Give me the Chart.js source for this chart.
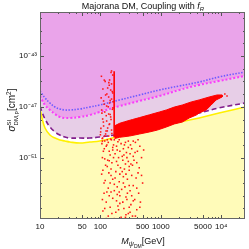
<!DOCTYPE html>
<html>
<head>
<meta charset="utf-8">
<title>Majorana DM</title>
<script src="https://cdn.jsdelivr.net/npm/chart.js"></script>
<style>
  html, body { margin: 0; padding: 0; background: #fff; }
</style>
</head>
<body>
<canvas id="grafico" width="249" height="249"></canvas>
<script>
// masses (GeV) where the limit curves were read
const massGrid = [10, 10.8, 12.1, 14.6, 17.7, 21.3, 25.8, 31.2, 45.6, 66.6, 97.3, 208, 444, 948, 2024, 4323, 9230, 24800];
// log10 of sigma (cm^2)
const blueExp    = [-45.76, -45.99, -46.31, -46.70, -47.02, -47.17, -47.25, -47.25, -47.17, -47.02, -46.86, -46.46, -46.07, -45.68, -45.36, -45.05, -44.65, -44.26];
const magentaExp = [-46.15, -46.46, -46.86, -47.25, -47.57, -47.80, -47.88, -47.88, -47.80, -47.65, -47.41, -46.94, -46.54, -46.15, -45.68, -45.28, -44.97, -44.57];
const purpleExp  = [-46.94, -47.41, -47.96, -48.59, -48.98, -49.22, -49.38, -49.46, -49.46, -49.46, -49.38, -49.14, -48.75, -48.28, -47.88, -47.49, -47.09, -46.70];
const yellowExp  = [-47.02, -47.88, -48.67, -49.22, -49.46, -49.61, -49.69, -49.77, -49.85, -49.77, -49.69, -49.30, -48.91, -48.51, -48.20, -47.88, -47.49, -47.02];

// dense band of model points (outline: upper edge then lower edge back)
const bandMass = [172, 208, 251, 340, 444, 649, 948, 1236, 1675, 2270, 3190, 4323, 6320, 8560, 10350,
                  10350, 8250, 6820, 5640, 4323, 3860, 2960, 2270, 1675, 1236, 879, 649, 444, 304, 208, 172];
const bandExp  = [-48.50, -48.30, -48.18, -48.00, -47.85, -47.63, -47.41, -47.25, -47.02, -46.86, -46.62, -46.46, -46.23, -46.07, -46.07,
                  -46.23, -46.46, -46.86, -47.25, -47.49, -47.65, -47.88, -48.20, -48.35, -48.59, -48.83, -48.98, -49.14, -49.30, -49.40, -49.50];

// vertical spike near the resonance
const spikeMass = [169, 169];
const spikeExp  = [-44.2, -49.4];

// scattered model points, around the spike
const upperDotMass = [153, 160, 142, 153, 132, 148, 160, 122, 137, 153, 113, 142, 127, 160, 105, 118, 137, 148, 109, 127, 142, 113, 132, 153, 101, 122, 137, 109, 148, 118,
                      104, 150, 120, 140, 110, 157, 128, 103, 145, 115, 135, 158, 106, 125, 150, 112, 140, 102, 130, 155, 118, 107, 138, 116, 162, 124, 100, 145, 11500, 12500];
const upperDotExp  = [-44.18, -44.50, -44.89, -45.20, -45.52, -45.68, -45.91, -46.07, -46.23, -46.39, -46.54, -46.70, -46.94, -47.09, -47.25, -47.41, -47.57, -47.80, -47.96, -48.12, -48.35, -48.51, -48.67, -48.83, -48.98, -49.14, -49.30, -49.46, -49.54, -49.69,
                      -44.6, -44.3, -45.0, -45.3, -45.6, -45.8, -46.0, -46.3, -46.5, -46.8, -47.0, -47.2, -47.5, -47.7, -48.0, -48.2, -48.4, -48.7, -48.9, -49.1, -49.3, -49.5, -45.1, -44.9, -46.6, -48.9, -49.2, -47.6, -46.0, -46.15];

// scattered model points below the limit curves
const lowerDotMass = [108, 135, 170, 220, 290, 380, 125, 160, 250, 330, 450, 112, 190, 270, 410, 145, 230, 310, 118, 200,
                      360, 480, 155, 260, 130, 215, 340, 110, 180, 300, 420, 150, 240, 390, 120, 205, 280, 170, 350, 500,
                      135, 225, 310, 115, 190, 430, 160, 265, 370, 125, 210, 320, 145, 245, 400, 110, 180, 290, 135, 220,
                      340, 165, 195, 240, 140, 290, 175, 255, 150, 330, 195, 265, 480, 460,
                      106, 128, 152, 185, 205, 260, 315, 350, 420, 116, 140, 175, 210, 245, 290, 375, 520, 108, 132, 165,
                      185, 235, 275, 320, 400, 122, 150, 195, 250, 300, 440, 105, 138, 160, 210, 265, 330, 115, 145, 190,
                      240, 300, 400, 128, 170, 210, 280, 350, 108, 140, 185, 235, 300, 450, 118, 155, 200, 260, 380, 125,
                      170, 310, 230, 275, 160, 350, 205, 130];
const lowerDotExp  = [-49.7, -49.8, -49.6, -49.9, -49.7, -49.8, -50.1, -50.2, -50.0, -50.3, -50.1, -50.5, -50.4, -50.6, -50.5, -50.8, -50.9, -50.7, -51.1, -51.0,
                      -51.2, -51.0, -51.4, -51.5, -51.7, -51.8, -51.6, -52.0, -52.1, -52.0, -52.2, -52.4, -52.5, -52.6, -52.8, -52.9, -52.7, -53.1, -53.2, -53.0,
                      -53.4, -53.5, -53.6, -53.8, -53.9, -53.8, -54.2, -54.1, -54.3, -54.5, -54.6, -54.7, -54.9, -55.0, -55.1, -55.2, -55.3, -55.4, -55.6, -55.7,
                      -55.6, -50.0, -49.75, -50.3, -51.25, -51.3, -52.6, -53.3, -53.7, -54.0, -54.8, -55.5, -52.4, -54.5,
                      -49.9, -50.0, -49.6, -50.1, -49.6, -49.8, -50.0, -49.7, -49.6, -50.3, -50.5, -50.7, -50.5, -50.8, -50.2, -50.6, -50.4, -51.0, -51.2, -51.0,
                      -51.3, -51.2, -51.0, -51.5, -51.4, -51.6, -51.9, -51.6, -51.9, -51.7, -51.8, -52.3, -52.2, -52.7, -52.3, -52.3, -52.4, -53.0, -53.0, -53.3,
                      -53.0, -53.2, -53.4, -53.7, -53.6, -54.0, -53.8, -54.4, -54.3, -54.0, -54.4, -54.5, -54.9, -54.9, -55.0, -55.4, -55.1, -55.7, -55.6, -55.8,
                      -55.8, -55.3, -52.1, -54.3, -50.4, -50.9, -53.7, -49.6];

const xTickVals   = [10, 50, 100, 500, 1000, 5000, 10000];
const xTickLabels = ['10', '50', '100', '500', '1000', '5000', '10\u2074'];
const yTickVals   = [1e-43, 1e-47, 1e-51];
const yTickLabels = ['10\u207b\u2074\u00b3', '10\u207b\u2074\u2077', '10\u207b\u2075\u00b9'];
const xMinor = [20, 30, 40, 60, 70, 80, 90, 200, 300, 400, 600, 700, 800, 900, 2000, 3000, 4000, 6000, 7000, 8000, 9000, 20000];
const yMinor = [1e-40, 1e-41, 1e-42, 1e-44, 1e-45, 1e-46, 1e-48, 1e-49, 1e-50, 1e-52, 1e-53, 1e-54, 1e-55];

const toPts = (xs, es) => xs.map((x, i) => ({ x: x, y: Math.pow(10, es[i]) }));

const FONT = '"Liberation Sans", Arial, sans-serif';

function drawRich(ctx, parts, x, y) {
  // measure then draw centred on x, baseline y
  let total = 0;
  const widths = parts.map(p => {
    let w = 0;
    [p.t, p.sup, p.sub].forEach((txt, k) => {
      if (!txt) return;
      const size = k === 0 ? p.s : (p.ss || 5.5);
      ctx.font = (p.i ? 'italic ' : '') + size + 'px ' + FONT;
      w = Math.max(w, ctx.measureText(txt).width);
    });
    total += w;
    return w;
  });
  let cx = x - total / 2;
  ctx.textAlign = 'left';
  ctx.textBaseline = 'alphabetic';
  parts.forEach((p, idx) => {
    if (p.t) {
      ctx.font = (p.i ? 'italic ' : '') + p.s + 'px ' + FONT;
      ctx.fillText(p.t, cx, y + (p.dy || 0));
    }
    if (p.sup) {
      ctx.font = (p.i ? 'italic ' : '') + (p.ss || 5.5) + 'px ' + FONT;
      ctx.fillText(p.sup, cx, y - 4.5);
    }
    if (p.sub) {
      ctx.font = (p.i ? 'italic ' : '') + (p.ss || 5.5) + 'px ' + FONT;
      ctx.fillText(p.sub, cx, y + 2.5);
    }
    cx += widths[idx];
  });
}

const framePlugin = {
  id: 'frame',
  beforeDraw(chart) {
    const ctx = chart.ctx;
    ctx.save();
    ctx.fillStyle = '#fff';
    ctx.fillRect(0, 0, chart.width, chart.height);
    ctx.restore();
  },
  afterDraw(chart) {
    const ctx = chart.ctx;
    const a = chart.chartArea;
    const xs = chart.scales.x, ys = chart.scales.y;
    ctx.save();
    ctx.strokeStyle = '#555';
    ctx.lineWidth = 1;
    ctx.beginPath();
    xTickVals.concat(xMinor).forEach((v, i) => {
      const len = i < xTickVals.length ? 4 : 2;
      const px = Math.round(xs.getPixelForValue(v)) + 0.5;
      ctx.moveTo(px, a.bottom); ctx.lineTo(px, a.bottom - len);
      ctx.moveTo(px, a.top); ctx.lineTo(px, a.top + len);
    });
    yTickVals.concat(yMinor).forEach((v, i) => {
      const len = i < yTickVals.length ? 4 : 2;
      const py = Math.round(ys.getPixelForValue(v)) + 0.5;
      ctx.moveTo(a.left, py); ctx.lineTo(a.left + len, py);
      ctx.moveTo(a.right, py); ctx.lineTo(a.right - len, py);
    });
    ctx.stroke();
    ctx.strokeStyle = '#666';
    ctx.strokeRect(a.left + 0.5, a.top + 0.5, a.right - a.left - 1, a.bottom - a.top - 1);

    ctx.fillStyle = '#111';
    drawRich(ctx, [{ t: 'Majorana DM, Coupling with ', s: 9 }, { t: 'f', s: 9, i: true }, { t: 'R', s: 6, i: true, dy: 2 }], 143, 9);
    drawRich(ctx, [{ t: 'M', s: 9, i: true }, { t: '\u03c8', s: 7, i: true, dy: 2 }, { t: 'DM', s: 5, dy: 4 }, { t: '[GeV]', s: 9 }], 143, 244);
    ctx.translate(15, 110);
    ctx.rotate(-Math.PI / 2);
    drawRich(ctx, [{ t: '\u03c3', s: 10, i: true }, { sup: 'SI', sub: 'DM,p', ss: 6 }, { t: '[cm', s: 10 }, { sup: '2', ss: 6.5 }, { t: ']', s: 10 }], 0, 0);
    ctx.restore();
  }
};

const dotStyle = { pointStyle: 'rect', pointRadius: 1.1, backgroundColor: 'rgb(255,20,20)', borderWidth: 0 };

const ctx = document.getElementById('grafico').getContext('2d');
new Chart(ctx, {
  type: 'scatter',
  data: {
    datasets: [
      { label: 'band', data: toPts(bandMass, bandExp), showLine: true, fill: 'shape',
        backgroundColor: 'rgb(255,0,0)', borderColor: 'rgb(255,0,0)', borderWidth: 1, pointRadius: 0 },
      { label: 'spike', data: toPts(spikeMass, spikeExp), showLine: true,
        borderColor: 'rgb(255,0,0)', borderWidth: 1.6, pointRadius: 0 },
      Object.assign({ label: 'dots above', data: toPts(upperDotMass, upperDotExp) }, dotStyle),
      Object.assign({ label: 'dots below', data: toPts(lowerDotMass, lowerDotExp) }, dotStyle),
      { label: 'blue', data: toPts(massGrid, blueExp), showLine: true, tension: 0.4,
        borderColor: 'rgb(110,90,255)', borderWidth: 1.6, borderDash: [1.5, 1.5], pointRadius: 0 },
      { label: 'magenta', data: toPts(massGrid, magentaExp), showLine: true, tension: 0.4, fill: 'end',
        backgroundColor: 'rgb(234,164,234)', borderColor: 'rgb(250,60,250)', borderWidth: 2, borderDash: [2, 2], pointRadius: 0 },
      { label: 'purple', data: toPts(massGrid, purpleExp), showLine: true, tension: 0.4, fill: 5,
        backgroundColor: 'rgb(231,206,231)', borderColor: 'rgb(130,30,140)', borderWidth: 1.6, borderDash: [5, 3], pointRadius: 0 },
      { label: 'yellow', data: toPts(massGrid, yellowExp), showLine: true, tension: 0.4, fill: 'start',
        backgroundColor: 'rgb(255,251,185)', borderColor: 'rgb(255,240,0)', borderWidth: 1.6, pointRadius: 0 }
    ]
  },
  options: {
    responsive: false,
    animation: false,
    layout: { padding: { top: 12, right: 3, left: 0, bottom: 0 } },
    plugins: { legend: { display: false }, tooltip: { enabled: false }, title: { display: false } },
    scales: {
      x: {
        type: 'logarithmic', min: 10, max: 24800, bounds: 'data',
        grid: { display: false, drawTicks: false }, border: { display: false },
        afterFit: s => { s.height = 30; },
        afterBuildTicks: s => { s.ticks = xTickVals.map(v => ({ value: v })); },
        ticks: { autoSkip: false, maxRotation: 0, padding: 3, color: '#111',
                 font: { family: FONT, size: 8 }, callback: (v, i) => xTickLabels[i] }
      },
      y: {
        type: 'logarithmic', min: Math.pow(10, -55.83), max: Math.pow(10, -39.54), bounds: 'data',
        grid: { display: false, drawTicks: false }, border: { display: false },
        afterFit: s => { s.width = 40; },
        afterBuildTicks: s => { s.ticks = yTickVals.map(v => ({ value: v })); },
        ticks: { autoSkip: false, padding: 3, color: '#111',
                 font: { family: FONT, size: 8 }, callback: (v, i) => yTickLabels[i] }
      }
    }
  },
  plugins: [framePlugin]
});
</script>
</body>
</html>
